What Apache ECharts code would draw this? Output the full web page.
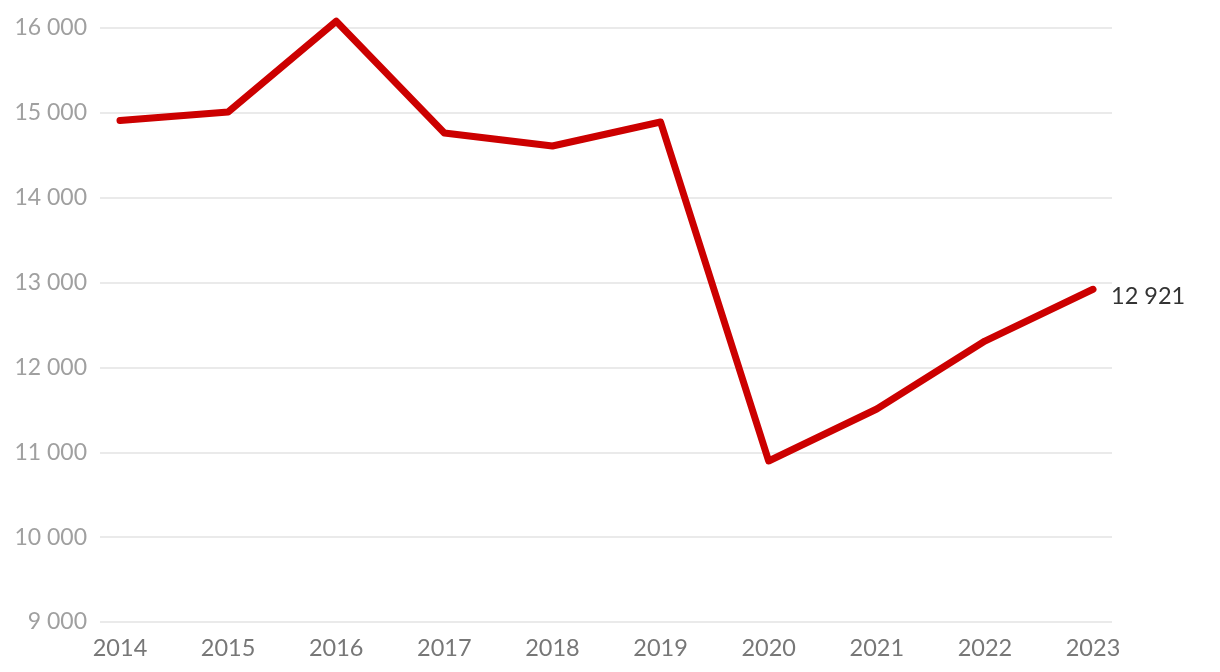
<!DOCTYPE html>
<html><head><meta charset="utf-8">
<script src="https://cdn.jsdelivr.net/npm/echarts@6/dist/echarts.min.js"></script>
<style>html,body{margin:0;padding:0;background:#fff}#c{width:1220px;height:672px}</style>
</head><body><div id="c"></div>
<script>
const years = ['2014','2015','2016','2017','2018','2019','2020','2021','2022','2023'];
const values = [14910, 15010, 16080, 14763, 14609, 14892, 10897, 11510, 12311, 12921];
const yMin = 9000, yMax = 16000, yStep = 1000;

const chart = echarts.init(document.getElementById('c'));
const font = 'Lato';
const fmt = v => String(Math.round(v)).replace(/\B(?=(\d{3})+(?!\d))/g, ' ');
chart.setOption({
  animation: false,
  grid: [
    {left: 100, right: 108, top: 28, bottom: 50},
    {left: 120, right: 127, top: 28, bottom: 50}
  ],
  xAxis: [
    {gridIndex: 0, type: 'category', data: years, show: false},
    {gridIndex: 1, type: 'category', data: years, boundaryGap: false,
     axisLine: {show: false}, axisTick: {show: false},
     axisLabel: {color: '#777', fontSize: 23.5, fontFamily: font, margin: 14}}
  ],
  yAxis: [
    {gridIndex: 0, type: 'value', min: yMin, max: yMax, interval: yStep,
     axisLabel: {color: '#a0a0a0', fontSize: 23, fontFamily: font, margin: 13, formatter: fmt},
     splitLine: {lineStyle: {color: '#e3e3e3', width: 1.5}},
     axisLine: {show: false}, axisTick: {show: false}},
    {gridIndex: 1, type: 'value', min: yMin, max: yMax, interval: yStep, show: false,
     splitLine: {show: false}}
  ],
  series: [{
    type: 'line', xAxisIndex: 1, yAxisIndex: 1, data: values,
    showSymbol: false, clip: false,
    lineStyle: {color: '#cc0000', width: 7, cap: 'round', join: 'round'},
    itemStyle: {color: '#cc0000'},
    endLabel: {show: true, formatter: p => fmt(p.value), color: '#333', fontSize: 23.5, fontFamily: font, distance: 18, offset: [0, 7]}
  }]
});
</script></body></html>
